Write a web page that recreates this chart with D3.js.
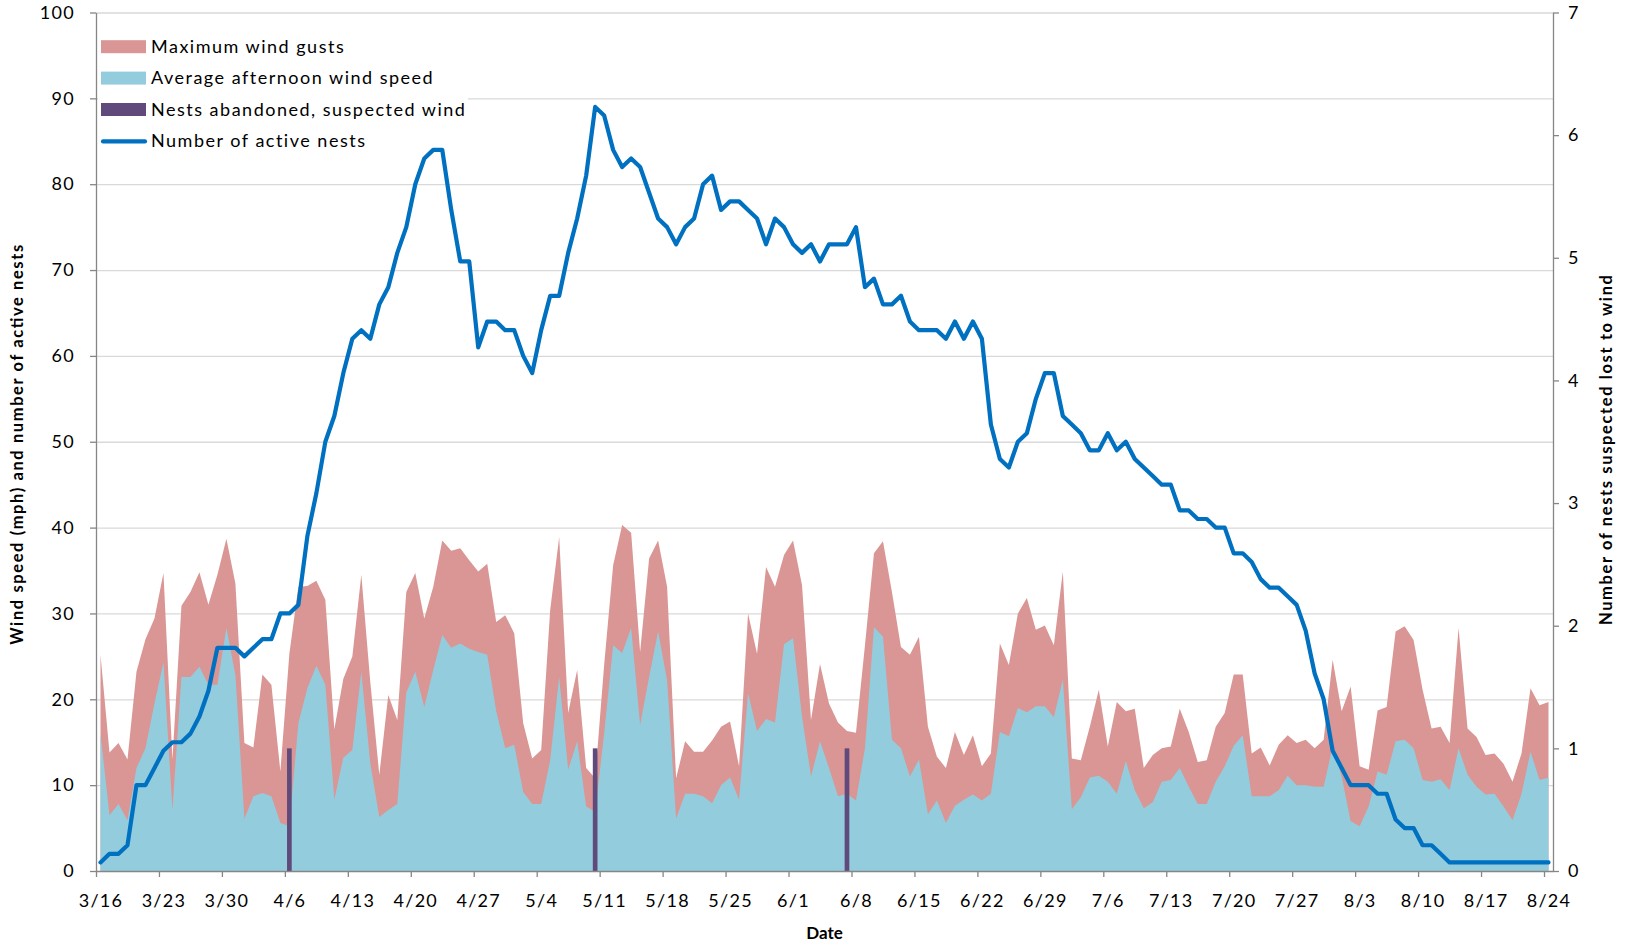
<!DOCTYPE html>
<html>
<head>
<meta charset="utf-8">
<script src="https://cdn.jsdelivr.net/npm/d3@7"></script>
<style>
	body { margin: 0; background: #fff; }
	svg text { font-family: Lato, "Open Sans", sans-serif; fill: #000; }
</style>
</head>
<body>
<div id="chart"></div>
<script>
// THE DATA (one value per day, 3/16 to 8/24)
const year = 2013;
const firstDay = '3/16';
const lastDay = '8/24';
const tickLabels = ['3/16', '3/23', '3/30', '4/6', '4/13', '4/20', '4/27', '5/4', '5/11', '5/18', '5/25', '6/1',
	'6/8', '6/15', '6/22', '6/29', '7/6', '7/13', '7/20', '7/27', '8/3', '8/10', '8/17', '8/24'];

const maxGusts = [
	25.2, 13.8, 14.9, 13.0, 23.2, 27.0, 29.4, 34.7, 13.0, 30.9, 32.5, 34.8, 31.0, 34.5, 38.7, 33.5, 14.9, 14.4, 22.9, 21.7,
	11.6, 25.3, 33.1, 33.2, 33.8, 31.6, 16.5, 22.4, 25.0, 34.5, 22.0, 11.2, 20.5, 17.6, 32.5, 34.7, 29.4, 33.1, 38.5, 37.3,
	37.6, 36.2, 34.9, 35.8, 29.0, 29.8, 27.7, 17.2, 13.1, 14.1, 30.4, 38.9, 18.4, 23.4, 12.0, 10.8, 24.0, 35.6, 40.3, 39.4,
	25.5, 36.4, 38.5, 33.1, 10.8, 15.1, 13.9, 13.9, 15.2, 16.8, 17.4, 12.2, 30.0, 25.3, 35.4, 33.1, 36.8, 38.5, 33.3, 17.6,
	24.1, 19.5, 17.3, 16.3, 16.1, 26.3, 37.0, 38.4, 32.5, 26.1, 25.2, 27.3, 16.8, 13.3, 12.0, 16.2, 13.5, 15.8, 12.2, 13.7,
	26.5, 24.0, 30.0, 31.8, 28.1, 28.6, 26.3, 34.9, 13.1, 12.9, 16.8, 21.1, 14.5, 19.7, 18.6, 18.9, 12.0, 13.5, 14.3, 14.5,
	18.9, 16.2, 12.7, 12.9, 16.8, 18.4, 22.9, 22.9, 13.7, 14.4, 12.3, 14.7, 15.8, 14.9, 15.3, 14.3, 15.3, 24.6, 18.6, 21.5,
	12.2, 11.8, 18.7, 19.1, 27.9, 28.5, 26.9, 21.1, 16.6, 16.8, 14.9, 28.3, 16.6, 15.6, 13.5, 13.7, 12.5, 10.4, 13.7, 21.3,
	19.3, 19.7
];

const avgWind = [
	16.0, 6.5, 7.8, 5.9, 12.0, 14.3, 19.5, 24.3, 7.1, 22.6, 22.6, 23.8, 21.7, 21.7, 28.3, 22.8, 6.1, 8.7, 9.1, 8.7,
	5.6, 5.2, 17.2, 21.3, 23.9, 21.7, 8.3, 13.2, 14.1, 23.2, 12.5, 6.3, 7.1, 7.8, 20.8, 23.2, 19.1, 23.4, 27.5, 26.0,
	26.5, 25.9, 25.5, 25.2, 18.6, 14.3, 14.7, 9.2, 7.8, 7.8, 12.9, 22.6, 11.8, 15.1, 7.5, 6.9, 16.0, 26.3, 25.4, 28.3,
	17.0, 22.6, 27.9, 22.2, 6.1, 9.0, 9.0, 8.7, 7.9, 10.0, 10.9, 8.3, 20.7, 16.3, 17.7, 17.3, 26.4, 27.1, 18.0, 11.0,
	15.1, 12.0, 8.7, 9.0, 8.2, 14.3, 28.4, 27.3, 15.3, 14.3, 11.0, 13.0, 6.6, 8.2, 5.6, 7.6, 8.3, 8.9, 8.2, 9.0,
	16.2, 15.7, 19.0, 18.5, 19.2, 19.2, 17.9, 22.3, 7.2, 8.6, 10.9, 11.1, 10.4, 9.0, 12.8, 9.4, 7.3, 8.0, 10.4, 10.6,
	12.0, 9.8, 7.8, 7.8, 10.4, 12.2, 14.6, 15.8, 8.7, 8.7, 8.7, 9.4, 11.1, 10.0, 10.0, 9.8, 9.8, 14.5, 11.0, 5.8,
	5.2, 7.5, 11.6, 11.2, 15.1, 15.3, 14.3, 10.6, 10.4, 10.7, 9.4, 14.3, 11.2, 9.8, 8.9, 9.0, 7.5, 5.9, 9.0, 13.9,
	10.6, 10.9
];

const activeNests = [
	1, 2, 2, 3, 10, 10, 12, 14, 15, 15, 16, 18, 21, 26, 26, 26, 25, 26, 27, 27,
	30, 30, 31, 39, 44, 50, 53, 58, 62, 63, 62, 66, 68, 72, 75, 80, 83, 84, 84, 77,
	71, 71, 61, 64, 64, 63, 63, 60, 58, 63, 67, 67, 72, 76, 81, 89, 88, 84, 82, 83,
	82, 79, 76, 75, 73, 75, 76, 80, 81, 77, 78, 78, 77, 76, 73, 76, 75, 73, 72, 73,
	71, 73, 73, 73, 75, 68, 69, 66, 66, 67, 64, 63, 63, 63, 62, 64, 62, 64, 62, 52,
	48, 47, 50, 51, 55, 58, 58, 53, 52, 51, 49, 49, 51, 49, 50, 48, 47, 46, 45, 45,
	42, 42, 41, 41, 40, 40, 37, 37, 36, 34, 33, 33, 32, 31, 28, 23, 20, 14, 12, 10,
	10, 10, 9, 9, 6, 5, 5, 3, 3, 2, 1, 1, 1, 1, 1, 1, 1, 1, 1, 1,
	1, 1
];

const abandonedDates = ['4/6', '5/10', '6/7'];
const abandonedCounts = [1, 1, 1];

const legendItems = [
	{ label: 'Maximum wind gusts', type: 'rect', colour: '#d99694' },
	{ label: 'Average afternoon wind speed', type: 'rect', colour: '#93cddd' },
	{ label: 'Nests abandoned, suspected wind', type: 'rect', colour: '#604a7b' },
	{ label: 'Number of active nests', type: 'line', colour: '#0070c0' }
];

// THE GOOD STUFF
const width = 1627;
const height = 942;
const margin = {
	top: 12.5,
	right: 74,
	bottom: 71,
	left: 96
};
const axisColour = '#868686';
const gridColour = '#d9d9d9';
const fontSize = 18;

const parseMD = s => {
	const [m, d] = s.split('/').map(Number);
	return new Date(Date.UTC(year, m - 1, d));
};

const start = parseMD(firstDay);
const end = d3.utcDay.offset(parseMD(lastDay), 1);
const days = d3.utcDay.range(start, end);

const x = d3.scaleUtc()
	.domain([start, end])
	.range([margin.left, width - margin.right]);
const dayW = x(d3.utcDay.offset(start, 1)) - x(start);
const cx = d => x(d) + dayW / 2; // points sit in the middle of each day

const yL = d3.scaleLinear().domain([0, 100]).range([height - margin.bottom, margin.top]);
const yR = d3.scaleLinear().domain([0, 7]).range([height - margin.bottom, margin.top]);

const svg = d3.select('#chart')
	.append('svg')
	.attr('width', width)
	.attr('height', height)
	.attr('viewBox', [0, 0, width, height]);

// gridlines
svg.append('g')
	.attr('class', 'gridline')
	.attr('transform', `translate(${margin.left},0)`)
	.call(d3.axisLeft(yL)
		.tickValues(d3.range(10, 101, 10))
		.tickSize(-(width - margin.left - margin.right))
		.tickFormat('')
	)
	.call(g => g.select('.domain').remove())
	.call(g => g.selectAll('line').attr('stroke', gridColour).attr('stroke-width', 1.3));

// legend box hides the grid behind it
svg.append('rect')
	.attr('x', margin.left + 2)
	.attr('y', 30)
	.attr('width', 370)
	.attr('height', 126)
	.attr('fill', '#fff');

// areas
const area = d3.area()
	.x((d, i) => cx(days[i]))
	.y0(yL(0))
	.y1(d => yL(d));

svg.append('path')
	.datum(maxGusts)
	.attr('fill', legendItems[0].colour)
	.attr('d', area);

svg.append('path')
	.datum(avgWind)
	.attr('fill', legendItems[1].colour)
	.attr('d', area);

// abandoned nests, secondary axis
const barW = dayW * 0.52;
svg.append('g')
	.selectAll('rect')
	.data(abandonedDates)
	.join('rect')
	.attr('x', d => cx(parseMD(d)) - barW / 2)
	.attr('y', (d, i) => yR(abandonedCounts[i]))
	.attr('width', barW)
	.attr('height', (d, i) => yR(0) - yR(abandonedCounts[i]))
	.attr('fill', legendItems[2].colour);

// active nests line
svg.append('path')
	.datum(activeNests)
	.attr('fill', 'none')
	.attr('stroke', legendItems[3].colour)
	.attr('stroke-width', 4.2)
	.attr('stroke-linejoin', 'round')
	.attr('stroke-linecap', 'round')
	.attr('d', d3.line()
		.x((d, i) => cx(days[i]))
		.y(d => yL(d))
	);

// axes
const styleAxis = g => {
	g.attr('font-size', fontSize)
		.attr('font-family', 'Lato, "Open Sans", sans-serif')
		.call(g => g.selectAll('.domain, .tick line').attr('stroke', axisColour).attr('stroke-width', 1.3))
		.call(g => g.selectAll('text').attr('fill', '#000').style('letter-spacing', '1.3px'));
};

svg.append('g')
	.attr('transform', `translate(${margin.left},0)`)
	.call(d3.axisLeft(yL)
		.tickValues(d3.range(0, 101, 10))
		.tickSize(6)
		.tickSizeOuter(0)
		.tickPadding(15)
	)
	.call(styleAxis);

svg.append('g')
	.attr('transform', `translate(${width - margin.right},0)`)
	.call(d3.axisRight(yR)
		.tickValues(d3.range(0, 8))
		.tickFormat(d3.format('d'))
		.tickSize(6)
		.tickSizeOuter(0)
		.tickPadding(9)
	)
	.call(styleAxis);

svg.append('g')
	.attr('transform', `translate(0,${height - margin.bottom})`)
	.call(d3.axisBottom(x)
		.tickValues(tickLabels.map(parseMD))
		.tickFormat((d, i) => tickLabels[i])
		.tickSize(6)
		.tickSizeOuter(0)
		.tickPadding(17)
	)
	.call(styleAxis)
	.call(g => g.selectAll('text').attr('x', dayW / 2));

// axis titles
svg.append('text')
	.attr('transform', `translate(23,${(margin.top + height - margin.bottom) / 2 + 3}) rotate(-90)`)
	.attr('text-anchor', 'middle')
	.attr('font-weight', 'bold')
	.attr('font-size', 16.5)
	.attr('textLength', 400)
	.attr('lengthAdjust', 'spacing')
	.text('Wind speed (mph) and number of active nests');

svg.append('text')
	.attr('transform', `translate(1612,450) rotate(-90)`)
	.attr('text-anchor', 'middle')
	.attr('font-weight', 'bold')
	.attr('font-size', 16.5)
	.attr('textLength', 350)
	.attr('lengthAdjust', 'spacing')
	.text('Number of nests suspected lost to wind');

svg.append('text')
	.attr('x', (margin.left + width - margin.right) / 2)
	.attr('y', 939)
	.attr('text-anchor', 'middle')
	.attr('font-weight', 'bold')
	.attr('font-size', 17)
	.text('Date');

// legend
const legend = svg.append('g')
	.attr('class', 'legend')
	.selectAll('g')
	.data(legendItems)
	.join('g')
	.attr('transform', (d, i) => `translate(101,${52.7 + i * 31.4})`);

legend.filter(d => d.type === 'rect')
	.append('rect')
	.attr('y', -12.5)
	.attr('width', 45)
	.attr('height', 13)
	.attr('fill', d => d.colour);

legend.filter(d => d.type === 'line')
	.append('line')
	.attr('x1', 2)
	.attr('x2', 44)
	.attr('y1', -5.5)
	.attr('y2', -5.5)
	.attr('stroke', d => d.colour)
	.attr('stroke-width', 4.2)
	.attr('stroke-linecap', 'round');

legend.append('text')
	.attr('x', 50)
	.attr('font-size', fontSize)
	.style('letter-spacing', '1.5px')
	.text(d => d.label);
</script>
</body>
</html>
